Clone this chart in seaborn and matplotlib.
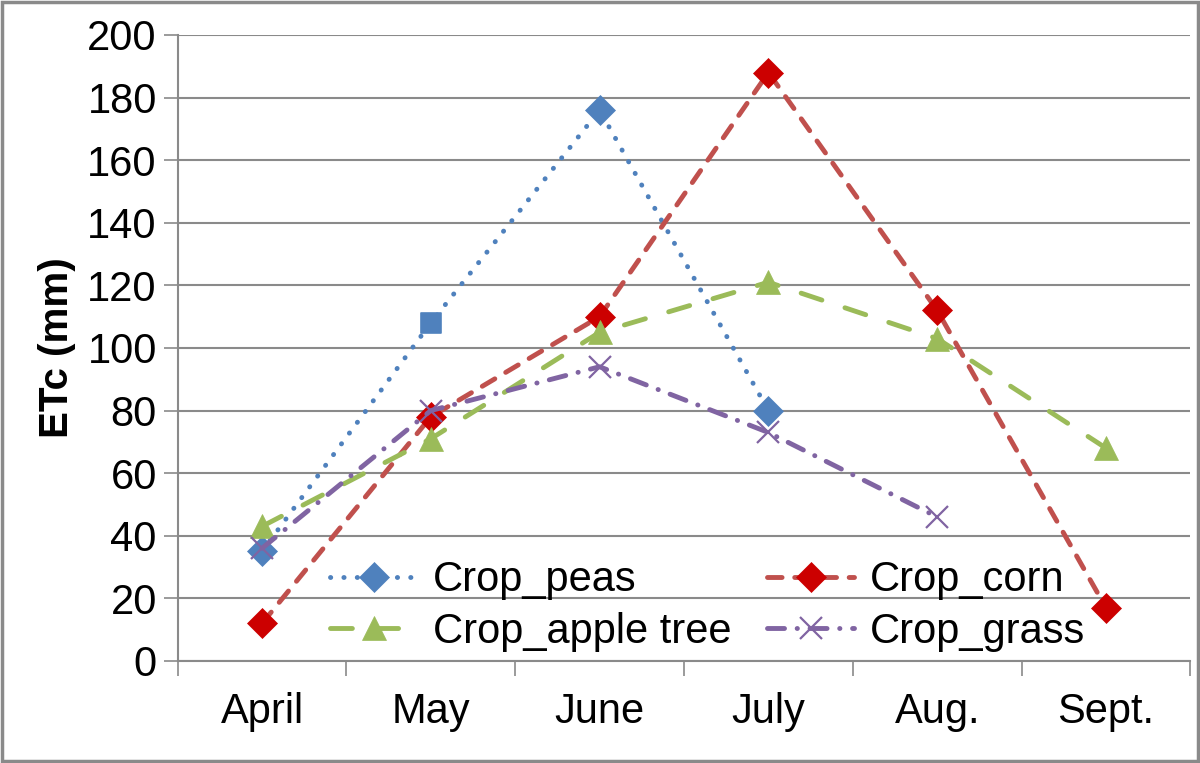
import numpy as np
import pandas as pd
import matplotlib
matplotlib.use("Agg")
import matplotlib.pyplot as plt
import seaborn as sns
from matplotlib.patches import Rectangle

months = ["April", "May", "June", "July", "Aug.", "Sept."]
peas = [35, 108, 176, 80]
corn = [12, 78, 110, 188, 112, 17]
apple = [43, 71, 105, 121, 103, 68]
grass = [36, 80, 94, 73, 46]

series = [
    ("Crop_peas", peas, "#4F81BD", "#4F81BD", "D", (0, (0.05, 2.7)), 15),
    ("Crop_corn", corn, "#C0504D", "#CC0000", "D", (0, (3.0, 2.6)), 15),
    ("Crop_apple tree", apple, "#9BBB59", "#9BBB59", "^", (0, (4.5, 5.0)), 17),
    ("Crop_grass", grass, "#8064A2", "#8064A2", "x", (0, (3.5, 2.6, 0.05, 2.6)), 16),
]

sns.set_theme(style="white")
plt.rcParams["font.family"] = ["Liberation Sans", "DejaVu Sans"]

fig = plt.figure(figsize=(12, 7.63), dpi=100)
ax = fig.add_axes([0.148, 0.1337, 0.844, 0.8205])

for name, vals, lc, mc, mk, ls, ms in series:
    df = pd.DataFrame({"x": np.arange(len(vals)), "y": vals})
    sns.lineplot(data=df, x="x", y="y", ax=ax, color=lc, linewidth=3.5,
                 linestyle=ls, marker=mk, markersize=ms, markerfacecolor=mc,
                 markeredgecolor=mc, markeredgewidth=1.6 if mk == "x" else 0.5,
                 label=name, zorder=3, dash_capstyle="round")
peas_line = ax.lines[0]

# the May point of peas is drawn as a square in the original
may = pd.DataFrame({"x": [1], "y": [peas[1]]})
sns.scatterplot(data=may, x="x", y="y", ax=ax, marker="s", s=220,
                color="#4F81BD", edgecolor="#4F81BD", zorder=4, legend=False)

ax.set_xlim(-0.5, 5.5)
ax.set_ylim(0, 200)
ax.set_yticks(np.arange(0, 201, 20))
ax.set_xticks(np.arange(6))
ax.set_xticklabels(months)
ax.set_xticks(np.arange(-0.5, 6, 1), minor=True)
ax.tick_params(axis="x", which="major", length=0, labelsize=30, pad=22,
               labelcolor="black")
ax.tick_params(axis="x", which="minor", length=11, width=1.2, color="#8a8a8a",
               direction="out", bottom=True)
ax.tick_params(axis="y", length=10, width=1.2, color="#8a8a8a", left=True,
               labelsize=30, pad=5, labelcolor="black")
ax.grid(axis="y", color="#8a8a8a", linewidth=1.5, zorder=0)
ax.set_axisbelow(True)
for s in ["top", "right"]:
    ax.spines[s].set_visible(False)
for s in ["left", "bottom"]:
    ax.spines[s].set_color("#8a8a8a")
    ax.spines[s].set_linewidth(1.5)
ax.set_xlabel("")
ax.set_ylabel("ETc (mm)", fontsize=29, fontweight="bold", labelpad=8, color="black")

# legend filled row by row: peas, corn / apple tree, grass
h, l = ax.get_legend_handles_labels()
order = [0, 2, 1, 3]
ax.legend([h[i] for i in order], [l[i] for i in order],
          loc="upper left", bbox_to_anchor=(0.275, 0.2654), bbox_transform=fig.transFigure,
          ncol=2, frameon=False, fontsize=30, handlelength=2.1, handletextpad=0.38,
          columnspacing=0.84, labelspacing=0.27, borderpad=0, borderaxespad=0,
          labelcolor="black")

# hide the diamond under the May square (after the legend copied the handle)
peas_line.set_markevery([0, 2, 3])

fig.patches.append(Rectangle((0.002, 0.003), 0.996, 0.994, transform=fig.transFigure,
                             fill=False, edgecolor="#8a8a8a", linewidth=2.5))

fig.savefig("out.png", dpi=100)
